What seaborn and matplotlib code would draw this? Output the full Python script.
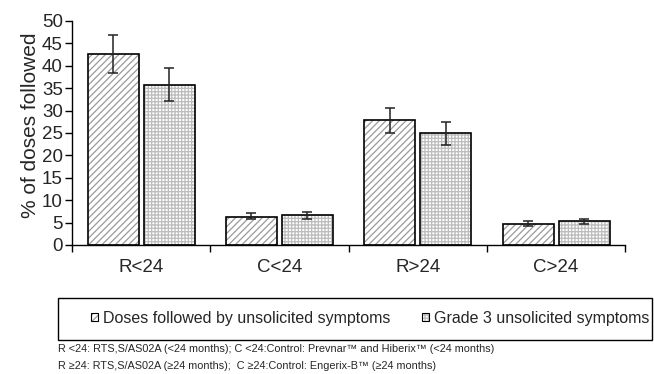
import matplotlib
matplotlib.use("Agg")
import matplotlib.pyplot as plt
import seaborn as sns
import pandas as pd
import numpy as np
from matplotlib.colors import to_rgba
from matplotlib.patches import Rectangle, Patch

categories = ["R<24", "C<24", "R>24", "C>24"]
series = ["Doses followed by unsolicited symptoms", "Grade 3 unsolicited symptoms"]
doses_vals = [42.6, 6.3, 27.8, 4.75]
doses_lo = [38.3, 5.8, 24.9, 4.2]
doses_hi = [46.8, 7.2, 30.6, 5.3]
grade3_vals = [35.7, 6.6, 25.0, 5.3]
grade3_lo = [32.2, 5.9, 22.3, 4.7]
grade3_hi = [39.4, 7.4, 27.5, 5.7]
yticks = list(range(0, 55, 5))
footnote1 = "R <24: RTS,S/AS02A (<24 months); C <24:Control: Prevnar\u2122 and Hiberix\u2122 (<24 months)"
footnote2 = "R \u226524: RTS,S/AS02A (\u226524 months);  C \u226524:Control: Engerix-B\u2122 (\u226524 months)"

sns.set_theme(style="white")
plt.rcParams["font.family"] = ["Liberation Sans", "DejaVu Sans"]
plt.rcParams["hatch.linewidth"] = 0.9

df = pd.DataFrame({
    "cat": categories * 2,
    "series": [series[0]] * 4 + [series[1]] * 4,
    "val": doses_vals + grade3_vals,
    "lo": doses_lo + grade3_lo,
    "hi": doses_hi + grade3_hi,
})

fig = plt.figure(figsize=(6.54, 3.74), dpi=100)
ax = fig.add_axes([0.110, 0.345, 0.846, 0.599])

sns.barplot(data=df, x="cat", y="val", hue="series", order=categories,
            hue_order=series, palette=["white", "white"], width=0.81, gap=0.09,
            edgecolor="black", linewidth=1.2, errorbar=None, legend=False, ax=ax)

hatches = ["/////", "+++++"]
hatch_cols = ["#9a9a9a", "#bcbcbc"]
bar_containers = list(ax.containers)[:2]
for i, cont in enumerate(bar_containers):
    sub = df[df["series"] == series[i]].reset_index(drop=True)
    xs, ys = [], []
    for p in cont.patches:
        p.set_hatch(hatches[i])
        p._hatch_color = to_rgba(hatch_cols[i])
        p.stale = True
        xs.append(p.get_x() + p.get_width() / 2)
        ys.append(p.get_height())
    ys = np.array(ys)
    lo = np.array(sub["lo"])
    hi = np.array(sub["hi"])
    ax.errorbar(xs, ys, yerr=[ys - lo, hi - ys], fmt="none", ecolor="#222222",
                elinewidth=1.1, capsize=3.5, capthick=1.1, zorder=5)

ax.set_xlim(-0.5, 3.5)
ax.set_ylim(0, 50)
ax.set_yticks(yticks)
ax.set_yticklabels([str(t) for t in yticks], fontsize=13.5)
ax.set_xticks(range(4))
ax.set_xticklabels(categories, fontsize=13.5)
ax.set_xticks([-0.5, 0.5, 1.5, 2.5, 3.5], minor=True)
ax.tick_params(axis="x", which="major", length=0, pad=10)
ax.tick_params(axis="x", which="minor", length=5, width=1, color="black", direction="out", bottom=True)
ax.tick_params(axis="y", length=5, width=1, color="black", direction="out", left=True, pad=1.5)
ax.set_xlabel("")
ax.set_ylabel("% of doses followed", fontsize=15)
ax.yaxis.set_label_coords(-0.058, 0.536)
for s in ["top", "right"]:
    ax.spines[s].set_visible(False)
for s in ["left", "bottom"]:
    ax.spines[s].set_color("black")
    ax.spines[s].set_linewidth(1.0)

# legend
handles = [Patch(facecolor="white", edgecolor="black", hatch=hatches[i], linewidth=0.8)
           for i in range(2)]
for i, h in enumerate(handles):
    h._hatch_color = to_rgba(hatch_cols[i])
fig.patches.append(Rectangle((58 / 654, 1 - 340 / 374), (652 - 58) / 654, 42 / 374,
                             transform=fig.transFigure, fill=False, edgecolor="black",
                             linewidth=1.0))
fig.legend(handles, series, loc="center left", bbox_to_anchor=(83 / 654, 1 - 318 / 374),
           ncol=2, frameon=False, fontsize=11.5, handlelength=0.45, handleheight=0.45,
           handletextpad=0.3, columnspacing=2.0, borderpad=0)

fig.text(58 / 654, 1 - 349 / 374, footnote1, fontsize=7.85, va="center", ha="left")
fig.text(58 / 654, 1 - 366 / 374, footnote2, fontsize=7.85, va="center", ha="left")

fig.savefig("out.png", dpi=100)
